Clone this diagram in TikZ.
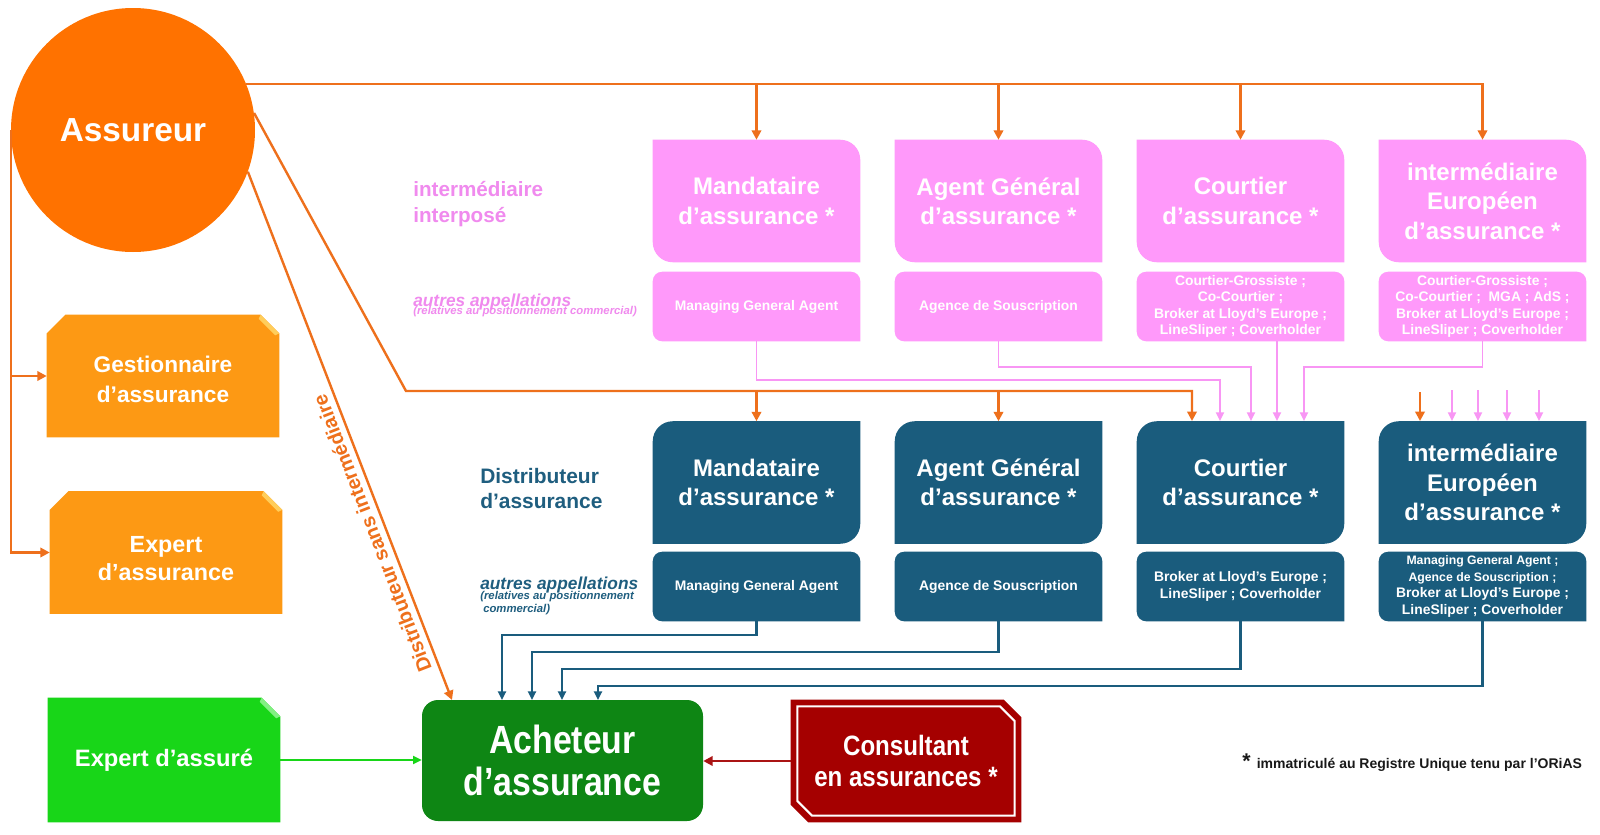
\documentclass[tikz,border=0pt]{standalone}
\usepackage{fontspec}
\setmainfont{Liberation Sans}
\newfontfamily\narrowsans[FakeStretch=0.86]{Liberation Sans}
\usetikzlibrary{arrows.meta,backgrounds,calc}
\definecolor{aorange}{RGB}{255,114,0}
\definecolor{lorange}{RGB}{238,112,28}
\definecolor{borange}{RGB}{253,153,20}
\definecolor{foldorange}{RGB}{255,205,90}
\definecolor{pinkbox}{RGB}{255,153,250}
\definecolor{pinkline}{RGB}{248,150,244}
\definecolor{pinktext}{RGB}{240,138,238}
\definecolor{bluebox}{RGB}{26,92,125}
\definecolor{bluetext}{RGB}{31,94,127}
\definecolor{darkgreen}{RGB}{14,134,20}
\definecolor{brightgreen}{RGB}{24,214,24}
\definecolor{foldgreen}{RGB}{130,240,130}
\definecolor{darkred}{RGB}{165,0,0}
\definecolor{redarrow}{RGB}{170,20,20}
\definecolor{foot}{RGB}{25,25,25}

% TR and BL corners rounded
\newcommand\shapeTRBL[3]{\fill[#2] (#1.north west) -- ([xshift=-#3]#1.north east) arc[start angle=90,end angle=0,radius=#3] -- (#1.south east) -- ([xshift=#3]#1.south west) arc[start angle=270,end angle=180,radius=#3] -- cycle;}
% TL and BR corners rounded
\newcommand\shapeTLBR[3]{\fill[#2] ([yshift=-#3]#1.north west) arc[start angle=180,end angle=90,radius=#3] -- (#1.north east) -- ([yshift=#3]#1.south east) arc[start angle=0,end angle=-90,radius=#3] -- (#1.south west) -- cycle;}
% TL, TR, BL rounded
\newcommand\shapeSub[3]{\fill[#2] ([yshift=-#3]#1.north west) arc[start angle=180,end angle=90,radius=#3] -- ([xshift=-#3]#1.north east) arc[start angle=90,end angle=0,radius=#3] -- (#1.south east) -- ([xshift=#3]#1.south west) arc[start angle=270,end angle=180,radius=#3] -- cycle;}
% fold highlight at top right
\newcommand\foldTR[3]{\fill[#2] ([xshift=-#3]#1.north east) -- ([yshift=-#3]#1.north east) -- ([xshift=-0.22*#3,yshift=-1.1*#3]#1.north east) -- ([xshift=-1.1*#3,yshift=-0.22*#3]#1.north east) -- cycle;}
% TL and TR snipped
\newcommand\shapeSnipTwo[4]{\fill[#2] ([yshift=-#3]#1.north west) -- ([xshift=#3]#1.north west) -- ([xshift=-#3]#1.north east) -- ([yshift=-#3]#1.north east) -- (#1.south east) -- (#1.south west) -- cycle; \foldTR{#1}{#4}{#3}}
% TR snipped
\newcommand\shapeSnipOne[4]{\fill[#2] (#1.north west) -- ([xshift=-#3]#1.north east) -- ([yshift=-#3]#1.north east) -- (#1.south east) -- (#1.south west) -- cycle; \foldTR{#1}{#4}{#3}}

\tikzset{
  box/.style={inner sep=0pt, align=center, text=white},
  mainbox/.style={box, minimum width=155.25pt, minimum height=91.5pt, font=\bfseries\fontsize{18}{22}\selectfont},
  subbox/.style={box, minimum width=155.25pt, minimum height=51.75pt, font=\bfseries\fontsize{10.4}{12.4}\selectfont},
  sidebox/.style={box, minimum width=174pt, minimum height=91.5pt},
  oline/.style={draw=lorange, line width=1.8pt},
  otip/.style={oline, -{Triangle[length=7pt,width=7pt]}},
  ptip/.style={draw=pinkline, line width=1.4pt, -{Triangle[length=6.5pt,width=6pt]}},
  btip/.style={draw=bluebox, line width=1.6pt, -{Triangle[length=6.5pt,width=6pt]}},
  gtip/.style={draw=brightgreen, line width=1.5pt, -{Triangle[length=6.5pt,width=6pt]}},
  rtip/.style={draw=redarrow, line width=1.8pt, -{Triangle[length=7pt,width=7pt]}},
  pinklabel/.style={inner sep=0pt, text=pinktext},
  bluelabel/.style={inner sep=0pt, text=bluetext},
}

\begin{document}
\begin{tikzpicture}[x=0.75pt,y=-0.75pt]
\useasboundingbox (0,0) rectangle (1600,835);

% ---------- nodes ----------
\node[circle, fill=aorange, minimum size=183pt, inner sep=0pt, text=white, font=\bfseries\fontsize{25}{30}\selectfont] (A) at (133,130) {Assureur};

\node[mainbox] (m1) at (756.5,201) {Mandataire\\d’assurance *};
\node[mainbox] (a1) at (998.5,201) {Agent Général\\d’assurance *};
\node[mainbox] (c1) at (1240.5,201) {Courtier\\d’assurance *};
\node[mainbox] (e1) at (1482.5,201) {intermédiaire\\Européen\\d’assurance *};

\node[subbox] (m1s) at (756.5,306.5) {Managing General Agent};
\node[subbox] (a1s) at (998.5,306.5) {Agence de Souscription};
\node[subbox] (c1s) at (1240.5,306.5) {Courtier-Grossiste ;\\Co-Courtier ;\\Broker at Lloyd’s Europe ;\\LineSliper ; Coverholder};
\node[subbox] (e1s) at (1482.5,306.5) {Courtier-Grossiste ;\\Co-Courtier ;~ MGA ; AdS ;\\Broker at Lloyd’s Europe ;\\LineSliper ; Coverholder};

\node[mainbox] (m2) at (756.5,482.5) {Mandataire\\d’assurance *};
\node[mainbox] (a2) at (998.5,482.5) {Agent Général\\d’assurance *};
\node[mainbox] (c2) at (1240.5,482.5) {Courtier\\d’assurance *};
\node[mainbox] (e2) at (1482.5,482.5) {intermédiaire\\Européen\\d’assurance *};

\node[subbox] (m2s) at (756.5,586.5) {Managing General Agent};
\node[subbox] (a2s) at (998.5,586.5) {Agence de Souscription};
\node[subbox] (c2s) at (1240.5,586.5) {Broker at Lloyd’s Europe ;\\LineSliper ; Coverholder};
\node[subbox] (e2s) at (1482.5,586.5) {\fontsize{9.2}{12.2}\selectfont Managing General Agent ;\\\fontsize{9.2}{12.2}\selectfont Agence de Souscription ;\\\fontsize{10.4}{12.2}\selectfont Broker at Lloyd’s Europe ;\\\fontsize{10.4}{12.2}\selectfont LineSliper ; Coverholder};

% left labels
\node[pinklabel, anchor=west, align=left, font=\bfseries\fontsize{15.5}{19.2}\selectfont] (lab1) at (413,204) {intermédiaire\\interposé};
\node[pinklabel, anchor=base west, font=\bfseries\itshape\fontsize{13}{14}\selectfont] (lab2) at (413,306) {autres appellations};
\node[pinklabel, anchor=base west, font=\bfseries\itshape\fontsize{8.5}{9}\selectfont] (lab3) at (413,314) {(relatives au positionnement commercial)};

\node[bluelabel, anchor=west, align=left, font=\bfseries\fontsize{15.7}{18.75}\selectfont] (lab4) at (480,489) {Distributeur\\d’assurance};
\node[bluelabel, anchor=base west, font=\bfseries\itshape\fontsize{13}{14}\selectfont] (lab5) at (480,589) {autres appellations};
\node[bluelabel, anchor=base west, font=\bfseries\itshape\fontsize{8.5}{9}\selectfont] (lab6) at (480,599) {(relatives au positionnement};
\node[bluelabel, anchor=base west, font=\bfseries\itshape\fontsize{8.5}{9}\selectfont] (lab7) at (483,612) {commercial)};

% left boxes
\node[sidebox, font=\bfseries\fontsize{17}{22.5}\selectfont] (g) at (163,376) {\rule{0pt}{18pt}Gestionnaire\\d’assurance};
\node[sidebox, font=\bfseries\fontsize{17.5}{21}\selectfont] (ex) at (166,552.5) {\rule{0pt}{20.5pt}Expert\\d’assurance};
\node[sidebox, minimum height=93pt, font=\bfseries\fontsize{17.8}{21}\selectfont] (ed) at (164,760) {Expert d’assuré};

% bottom boxes
\node[box, rounded corners=12pt, fill=darkgreen, minimum width=210.75pt, minimum height=90.75pt, font=\narrowsans\bfseries\fontsize{29.5}{31}\selectfont] (ach) at (562.5,760.5) {Acheteur\\d’assurance};
\node[box, minimum width=172.5pt, minimum height=91.5pt, font=\narrowsans\bfseries\fontsize{21}{23}\selectfont] (cons) at (906,761) {Consultant\\en assurances *};

% footnote
\node[anchor=base west, inner sep=0pt, text=foot, font=\bfseries\fontsize{10.5}{12}\selectfont] (fn) at (1242,768) {{\fontsize{16}{16}\selectfont *}\, immatriculé au Registre Unique tenu par l’ORiAS};

% ---------- coordinates ----------
\coordinate (k1) at (406,391);
\coordinate (k2) at (1192,421);
\coordinate (k3) at (452,700);
\coordinate (p1) at (1220,421);
\coordinate (p2) at (1251,421);
\coordinate (p3) at (1277,421);
\coordinate (p4) at (1304,421);
\coordinate (eo1) at (1420,392);
\coordinate (eo2) at (1420,421);
\coordinate (q1) at (502,700);
\coordinate (q2) at (532,700);
\coordinate (q3) at (562,700);
\coordinate (q4) at (598,700);

% ---------- connectors ----------
\draw[otip] (A.22) -| (e1.north);
\foreach \n in {m1,a1,c1} \draw[otip] (A.22 -| \n.north) -- (\n.north);

\draw[otip] (A.8) -- (k1) -| (k2);
\foreach \n in {m2,a2} \draw[otip] (k1 -| \n.north) -- (\n.north);

\draw[otip] (A.-20) -- (k3) node[pos=0.675, rotate=111.15, anchor=south, inner sep=4.5pt, text=lorange, font=\bfseries\fontsize{15}{18}\selectfont] (dsi) {Distributeur sans intermédiaire};

\draw[otip] (A.west) |- (ex.west);
\draw[otip] (A.west |- g.west) -- (g.west);

\draw[ptip] (m1s.south) -- ++(0,39) -| (p1);
\draw[ptip] (a1s.south) -- ++(0,26) -| (p2);
\draw[ptip] (p3 |- c1s.south) -- (p3);
\draw[ptip] (e1s.south) -- ++(0,26) -| (p4);

\draw[otip] (eo1) -- (eo2);
\foreach \xx/\i in {1452/1,1478/2,1507/3,1539/4}{
  \coordinate (ps\i) at (\xx,390);
  \coordinate (pe\i) at (\xx,421);
  \draw[ptip] (ps\i) -- (pe\i);
}

\draw[btip] (m2s.south) -- ++(0,14) -| (q1);
\draw[btip] (a2s.south) -- ++(0,31) -| (q2);
\draw[btip] (c2s.south) -- ++(0,48) -| (q3);
\draw[btip] (e2s.south) -- ++(0,65) -| (q4);

\draw[gtip] (ed.east) -- (ed.east -| ach.west);
\draw[rtip] (cons.west) -- (cons.west -| ach.east);

% ---------- backgrounds ----------
\begin{pgfonlayer}{background}
\fill[white] (0,0) rectangle (1600,835);
\foreach \n in {m1,a1,c1,e1} {\shapeTRBL{\n}{pinkbox}{15pt}}
\foreach \n in {m2,a2,c2,e2} {\shapeTLBR{\n}{bluebox}{15pt}}
\foreach \n in {m1s,a1s,c1s,e1s} {\shapeSub{\n}{pinkbox}{7pt}}
\foreach \n in {m2s,a2s,c2s,e2s} {\shapeSub{\n}{bluebox}{7pt}}
\shapeSnipTwo{g}{borange}{14pt}{foldorange}
\shapeSnipTwo{ex}{borange}{14pt}{foldorange}
\shapeSnipOne{ed}{brightgreen}{14pt}{foldgreen}
\fill[darkred] (cons.north west) -- ([xshift=-13pt]cons.north east) -- ([yshift=-13pt]cons.north east) -- (cons.south east) -- ([xshift=13pt]cons.south west) -- ([yshift=13pt]cons.south west) -- cycle;
\draw[white, line width=1.6pt] ([shift={(5pt,-5pt)}]cons.north west) -- ([shift={(-16pt,-5pt)}]cons.north east) -- ([shift={(-5pt,-16pt)}]cons.north east) -- ([shift={(-5pt,5pt)}]cons.south east) -- ([shift={(16pt,5pt)}]cons.south west) -- ([shift={(5pt,16pt)}]cons.south west) -- cycle;
\end{pgfonlayer}
\end{tikzpicture}
\end{document}
